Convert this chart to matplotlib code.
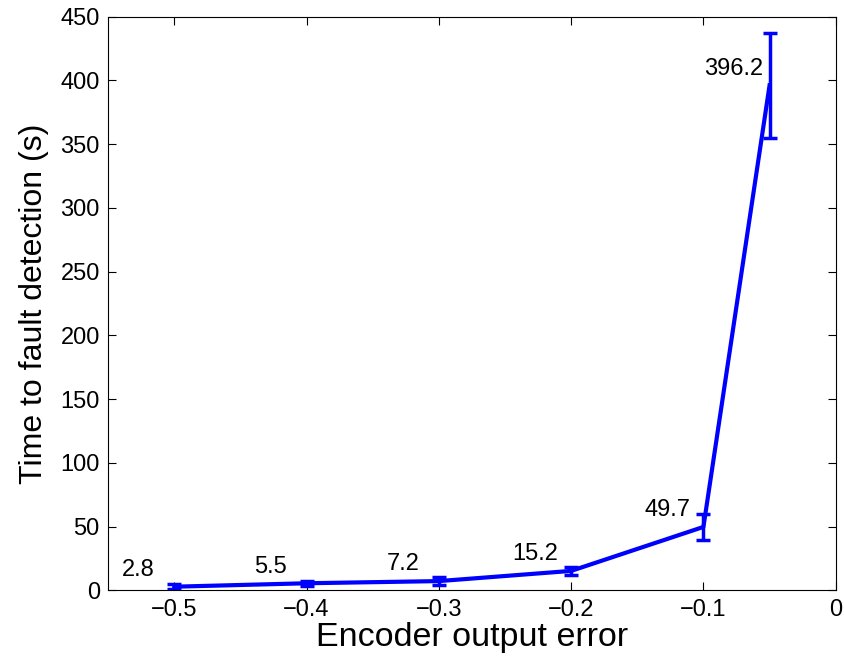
import numpy as np
import matplotlib.pyplot as plt

# data
err = [-0.5, -0.4, -0.3, -0.2, -0.1, -0.05]
t_detect = [2.8, 5.5, 7.2, 15.2, 49.7, 396.2]
t_std = [2, 2, 3, 3, 10, 41]
labels = ['2.8', '5.5', '7.2', '15.2', '49.7', '396.2']

plt.rcParams['font.family'] = ['Liberation Sans', 'DejaVu Sans']

fig = plt.figure(figsize=(8.45, 6.7), dpi=100)
ax = fig.add_axes([0.128, 0.119, 0.861, 0.856])

ax.errorbar(err, t_detect, yerr=t_std, color='#0000ff', lw=3,
            elinewidth=2.5, capsize=5, capthick=2.5)

for x, y, s in zip(err, t_detect, labels):
    ax.annotate(s, (x, y), xytext=(-26, 12), textcoords='offset points',
                ha='center', va='center', fontsize=17)

ax.set_xlim(-0.55, 0)
ax.set_ylim(0, 450)
ax.set_xticks([-0.5, -0.4, -0.3, -0.2, -0.1, 0])
ax.set_xticklabels(['\u22120.5', '\u22120.4', '\u22120.3', '\u22120.2', '\u22120.1', '0'])
ax.set_yticks(np.arange(0, 451, 50))
ax.tick_params(direction='in', top=True, right=True, labelsize=17, length=6, pad=6)
ax.set_xlabel('Encoder output error', fontsize=24.5, labelpad=1)
ax.set_ylabel('Time to fault detection (s)', fontsize=23, labelpad=8)

fig.savefig('out.png')
